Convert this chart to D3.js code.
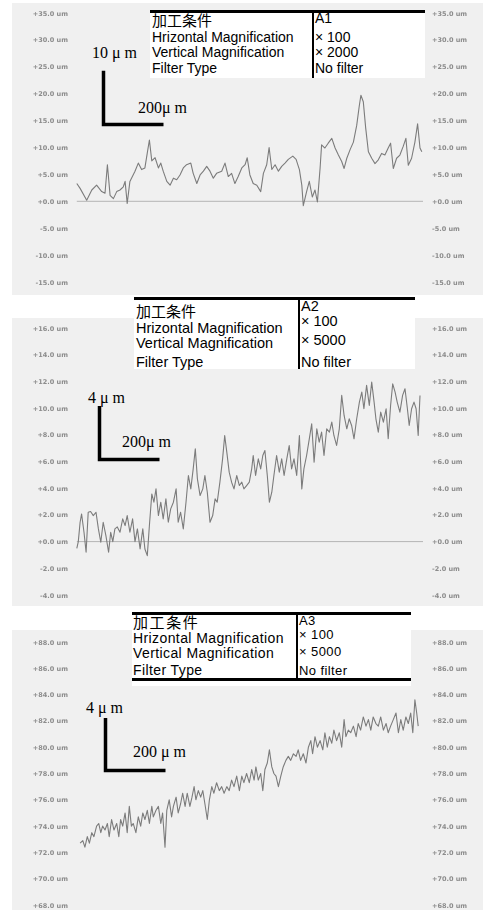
<!DOCTYPE html>
<html>
<head>
<meta charset="utf-8">
<script src="https://cdn.jsdelivr.net/npm/d3@7"></script>
<style>
  html, body { margin: 0; padding: 0; background: #fff; }
  svg { display: block; }
</style>
</head>
<body>
<svg id="chart" width="483" height="910"></svg>
<script>
// Surface roughness profiles (x: position along the trace in µm, z: height in µm)
const profileA1 = [[6,3.3],[17,2.4],[39,0.2],[56,2.1],[72,3.0],[89,1.8],[100,1.5],[108,6.8],[117,1.1],[128,0.5],[139,1.8],[150,2.1],[161,2.7],[167,3.7],[174,-0.4],[183,3.7],[200,5.6],[211,7.1],[222,5.9],[233,6.2],[241,9.0],[248,11.4],[256,7.5],[267,8.1],[278,6.2],[286,7.1],[294,5.6],[306,3.7],[317,3.0],[328,4.3],[339,4.0],[350,4.9],[361,6.2],[372,6.8],[386,7.1],[394,5.2],[406,3.3],[417,4.9],[428,5.6],[439,6.5],[450,5.6],[461,4.3],[472,5.2],[489,5.6],[500,7.1],[511,4.6],[522,5.2],[533,3.3],[544,4.6],[556,6.2],[567,6.8],[574,8.1],[583,4.9],[594,3.3],[606,3.0],[619,1.8],[628,5.2],[639,6.8],[647,10.0],[656,5.9],[667,6.8],[678,5.6],[689,6.5],[700,7.1],[711,7.8],[726,8.4],[737,7.8],[748,5.9],[756,3.0],[761,-0.8],[772,1.8],[781,3.7],[791,0.8],[800,2.1],[808,-0.1],[817,6.2],[822,10.5],[833,9.9],[844,10.8],[856,11.7],[867,9.9],[878,8.6],[889,7.4],[897,6.1],[906,8.0],[917,9.6],[928,11.0],[939,14.1],[948,17.9],[953,19.7],[961,18.5],[969,13.6],[978,9.2],[989,8.0],[1000,7.0],[1011,7.7],[1022,8.9],[1033,8.6],[1044,9.9],[1052,10.8],[1061,6.1],[1072,8.0],[1083,8.6],[1094,10.2],[1103,11.7],[1111,6.7],[1122,8.0],[1133,11.0],[1142,14.4],[1150,9.9],[1156,9.2]];

const profileA2 = [[6,-0.5],[11,0.0],[17,1.45],[22,2.07],[30,0.7],[37,-0.8],[44,2.2],[52,2.25],[61,1.95],[70,2.2],[78,0.95],[86,-0.05],[94,1.45],[103,0.45],[112,-0.8],[119,0.7],[126,0.0],[133,0.95],[141,1.1],[150,0.7],[159,1.7],[167,1.2],[174,1.95],[183,0.7],[192,1.7],[200,0.0],[208,0.95],[217,-0.55],[226,0.95],[233,-0.55],[241,-1.05],[248,1.2],[256,3.57],[263,2.95],[270,3.95],[278,1.95],[286,2.95],[294,1.7],[303,3.2],[311,1.45],[319,2.45],[328,2.95],[337,3.95],[344,1.45],[352,2.2],[361,0.95],[370,2.95],[378,4.95],[386,3.95],[394,5.45],[401,6.95],[408,4.7],[417,3.45],[426,3.95],[433,4.95],[441,3.7],[450,1.45],[459,1.95],[467,3.2],[474,2.95],[483,4.45],[492,6.2],[499,7.95],[506,6.7],[514,5.2],[522,4.45],[530,3.95],[539,4.95],[548,4.2],[556,4.45],[563,3.95],[572,4.2],[581,4.45],[589,5.45],[594,6.45],[602,4.95],[611,6.2],[619,5.45],[626,6.45],[633,6.82],[641,4.95],[648,2.95],[656,3.7],[663,4.95],[672,6.45],[681,5.2],[689,6.2],[697,4.95],[706,6.2],[714,7.2],[722,5.45],[730,6.2],[739,4.95],[748,7.95],[756,3.95],[763,5.45],[772,6.45],[781,7.7],[789,8.82],[797,5.95],[806,8.45],[814,7.45],[822,8.2],[830,6.45],[839,8.45],[848,8.2],[856,8.95],[863,7.95],[872,7.2],[881,8.45],[889,10.95],[897,9.45],[906,8.45],[914,9.2],[922,8.7],[930,7.7],[939,9.2],[948,10.45],[956,11.2],[963,9.95],[972,11.7],[981,10.2],[989,11.95],[997,10.45],[1003,9.2],[1011,8.2],[1019,9.7],[1028,8.95],[1037,9.95],[1044,7.7],[1052,10.2],[1059,11.82],[1067,11.2],[1074,10.45],[1083,9.7],[1092,10.95],[1100,11.45],[1108,9.95],[1114,8.7],[1122,9.95],[1130,10.45],[1137,9.95],[1144,7.95],[1150,10.95]];

const profileA3 = [[17,72.7],[26,72.9],[33,72.4],[41,73.2],[48,72.7],[56,73.5],[63,73.2],[72,74.0],[79,74.2],[86,73.5],[92,74.0],[100,73.7],[108,74.2],[114,73.2],[122,74.5],[130,73.7],[139,74.2],[146,73.2],[152,74.5],[159,74.0],[167,75.0],[174,73.5],[181,75.5],[188,74.0],[194,74.2],[203,73.5],[211,74.7],[219,74.0],[226,75.0],[233,74.5],[241,75.2],[248,74.2],[256,75.5],[261,74.7],[270,75.2],[278,75.5],[286,74.2],[292,75.0],[300,72.4],[306,75.2],[314,76.0],[322,74.7],[328,75.5],[337,76.2],[344,75.0],[352,75.7],[359,76.5],[367,75.5],[374,76.5],[383,75.5],[390,76.2],[397,77.0],[403,76.0],[411,76.7],[419,76.2],[426,76.7],[433,75.7],[441,74.5],[448,76.0],[456,77.0],[463,76.5],[472,77.3],[481,76.7],[489,77.0],[497,76.5],[506,77.0],[514,76.7],[522,77.5],[530,77.0],[539,77.8],[548,76.7],[556,77.8],[563,77.3],[572,78.0],[581,77.3],[589,78.3],[597,77.5],[603,78.5],[611,77.5],[619,78.0],[626,76.7],[633,78.3],[641,78.8],[648,79.8],[656,78.5],[663,78.0],[670,77.8],[678,77.0],[686,77.8],[694,78.5],[703,79.0],[711,79.3],[719,79.0],[728,79.5],[737,79.3],[744,79.8],[752,79.0],[761,79.5],[770,78.8],[778,80.0],[786,80.5],[792,79.5],[800,80.8],[808,80.0],[817,80.5],[826,79.8],[833,81.1],[841,80.0],[848,80.8],[856,80.3],[863,81.3],[872,80.5],[881,81.1],[889,80.0],[897,82.1],[903,80.8],[911,81.3],[919,81.1],[928,81.6],[937,80.8],[944,81.8],[952,81.3],[961,82.3],[970,81.6],[978,82.1],[986,81.3],[994,82.3],[1003,81.8],[1011,81.6],[1019,82.3],[1028,81.3],[1037,81.8],[1044,81.1],[1052,81.6],[1061,82.1],[1070,82.6],[1078,81.1],[1086,82.1],[1094,81.3],[1103,82.3],[1111,81.8],[1119,82.6],[1126,81.1],[1133,83.6],[1139,82.6],[1144,81.6]];

// Height axis ticks (µm)
const ticksA1 = [-15, -10, -5, 0, 5, 10, 15, 20, 25, 30, 35];
const ticksA2 = [-4, -2, 0, 2, 4, 6, 8, 10, 12, 14, 16];
const ticksA3 = [68, 70, 72, 74, 76, 78, 80, 82, 84, 86, 88];

// Measurement condition table
const conditionLabels = ["加工条件", "Hrizontal Magnification", "Vertical Magnification", "Filter Type"];
const conditionsA1 = ["A1", "× 100", "× 2000", "No filter"];
const conditionsA2 = ["A2", "× 100", "× 5000", "No filter"];
const conditionsA3 = ["A3", "× 100", "× 5000", "No filter"];

// Scale bars: [vertical µm, horizontal µm]
const scaleBarA1 = [10, 200];
const scaleBarA2 = [4, 200];
const scaleBarA3 = [4, 200];
const xLength = [0, 1160];

const svg = d3.select("#chart");
const defs = svg.append("defs");
defs.append("filter").attr("id", "soft")
  .attr("x", "-10%").attr("y", "-50%").attr("width", "120%").attr("height", "200%")
  .append("feGaussianBlur").attr("stdDeviation", 0.6);
defs.append("filter").attr("id", "softLine")
  .append("feGaussianBlur").attr("stdDeviation", 0.3);

const fmt = d => (d >= 0 ? "+" : "") + d.toFixed(1) + "  um";

const panels = [
  { profile: profileA1, ticks: ticksA1, cond: conditionsA1, bar: scaleBarA1, zeroLine: true,
    bg: [3, 295], yRange: [282, 13],
    table: { x0: 150, x1: 425, y0: 10, y1: 78, div: 313, bottom: null, lx: 152, rx: 315,
             lRows: [26, 42, 57, 73], rRows: [23, 42, 57, 73], cjk: 15, fs: 14, rfs: 14, ls: 0 },
    corner: [103.5, 124.5], vLab: [92, 58], hLab: [138, 113], vText: "10 μ m", hText: "200μ m" },
  { profile: profileA2, ticks: ticksA2, cond: conditionsA2, bar: scaleBarA2, zeroLine: true,
    bg: [318, 606], yRange: [595, 328],
    table: { x0: 134, x1: 415, y0: 297, y1: 369, div: 299, bottom: null, lx: 136, rx: 301,
             lRows: [317, 333, 348, 367], rRows: [311, 326, 345, 367], cjk: 15, fs: 14.5, rfs: 14.5, ls: 0 },
    corner: [99.5, 459.5], vLab: [88, 403], hLab: [122, 447], vText: "4 μ m", hText: "200μ m" },
  { profile: profileA3, ticks: ticksA3, cond: conditionsA3, bar: scaleBarA3, zeroLine: false,
    bg: [630, 910], yRange: [905, 642],
    table: { x0: 132, x1: 411, y0: 612, y1: 686, div: 297, bottom: 678, lx: 133, rx: 299,
             lRows: [628, 643, 658, 675], rRows: [624.5, 639, 656, 675], cjk: 15, fs: 14, rfs: 13, ls: 0.4 },
    corner: [105.5, 770.5], vLab: [86, 713], hLab: [133, 757], vText: "4 μ m", hText: "200 μ m" }
];

const x = d3.scaleLinear().domain(xLength).range([75, 423]);

panels.forEach(p => {
  const g = svg.append("g");
  const y = d3.scaleLinear().domain(d3.extent(p.ticks)).range(p.yRange);

  // plotting area background
  g.append("rect").attr("x", 12).attr("y", p.bg[0])
    .attr("width", 471).attr("height", p.bg[1] - p.bg[0]).attr("fill", "#f0f0f0");

  // height axis labels on both sides
  const left = d3.axisLeft(y).tickValues(p.ticks).tickSize(0).tickPadding(0).tickFormat(fmt);
  const right = d3.axisRight(y).tickValues(p.ticks).tickSize(0).tickPadding(0).tickFormat(fmt);
  [[left, 68], [right, 432]].forEach(([ax, xp]) => {
    const a = g.append("g").attr("transform", `translate(${xp},0)`).call(ax);
    a.select(".domain").remove();
    a.selectAll("text")
      .attr("font-family", "DejaVu Sans, sans-serif")
      .attr("font-size", 6.5).attr("font-weight", "bold")
      .attr("fill", "#8c8c8c").attr("filter", "url(#soft)");
  });

  // reference (zero) line
  if (p.zeroLine) {
    g.append("line")
      .attr("x1", x(p.profile[0][0])).attr("x2", x(xLength[1]))
      .attr("y1", y(0)).attr("y2", y(0))
      .attr("stroke", "#b4b4b4").attr("stroke-width", 1);
  }

  // roughness profile
  g.append("path").datum(p.profile)
    .attr("d", d3.line().x(d => x(d[0])).y(d => y(d[1])))
    .attr("fill", "none").attr("stroke", "#7c7c7c").attr("stroke-width", 1.1)
    .attr("stroke-linejoin", "round").attr("filter", "url(#softLine)");

  // condition table
  const t = p.table;
  g.append("rect").attr("x", t.x0).attr("y", t.y0)
    .attr("width", t.x1 - t.x0).attr("height", t.y1 - t.y0).attr("fill", "#fff");
  g.append("line").attr("x1", t.x0).attr("x2", t.x1).attr("y1", t.y0 + 1.5).attr("y2", t.y0 + 1.5)
    .attr("stroke", "#000").attr("stroke-width", 3);
  if (t.bottom) {
    g.append("line").attr("x1", t.x0).attr("x2", t.x1).attr("y1", t.bottom + 1.5).attr("y2", t.bottom + 1.5)
      .attr("stroke", "#000").attr("stroke-width", 3);
  }
  g.append("line").attr("x1", t.div).attr("x2", t.div)
    .attr("y1", t.y0).attr("y2", t.bottom ? t.bottom : t.y1)
    .attr("stroke", "#000").attr("stroke-width", 2);

  g.selectAll(null).data(conditionLabels).join("text")
    .attr("x", t.lx).attr("y", (d, i) => t.lRows[i])
    .attr("font-family", (d, i) => i === 0 ? "Noto Sans CJK JP, sans-serif" : "Liberation Sans, Arial, sans-serif")
    .attr("font-size", (d, i) => i === 0 ? t.cjk : t.fs)
    .attr("letter-spacing", (d, i) => i === 0 ? t.ls * 4 : t.ls)
    .attr("fill", "#000").text(d => d);
  g.selectAll(null).data(p.cond).join("text")
    .attr("x", t.rx).attr("y", (d, i) => t.rRows[i])
    .attr("font-family", "Liberation Sans, Arial, sans-serif")
    .attr("font-size", t.rfs).attr("letter-spacing", t.ls).attr("fill", "#000").text(d => d);

  // scale bars
  const [cx, cy] = p.corner;
  const vLen = y(p.ticks[0]) - y(p.ticks[0] + p.bar[0]);
  const hLen = x(p.bar[1]) - x(0);
  g.append("path")
    .attr("d", `M${cx},${cy - vLen}V${cy}H${cx + hLen}`)
    .attr("fill", "none").attr("stroke", "#000").attr("stroke-width", 3.5);
  g.append("text").attr("x", p.vLab[0]).attr("y", p.vLab[1])
    .attr("font-family", "Liberation Serif, Times New Roman, serif").attr("font-size", 16)
    .attr("fill", "#000").text(p.vText);
  g.append("text").attr("x", p.hLab[0]).attr("y", p.hLab[1])
    .attr("font-family", "Liberation Serif, Times New Roman, serif").attr("font-size", 16)
    .attr("fill", "#000").text(p.hText);
});
</script>
</body>
</html>
